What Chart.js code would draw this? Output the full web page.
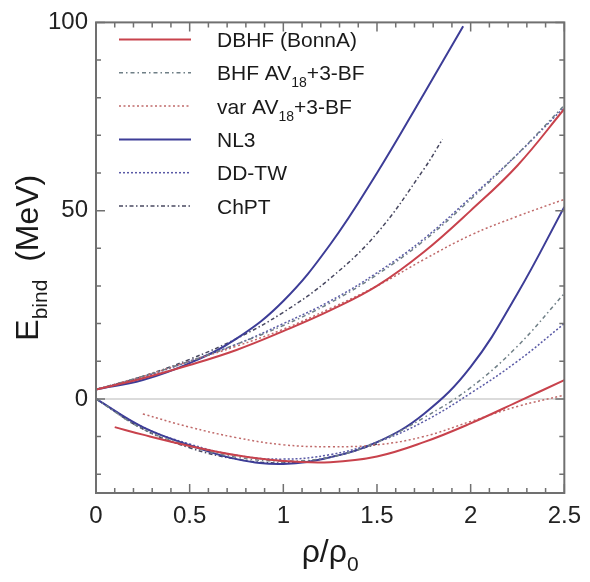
<!DOCTYPE html>
<html>
<head>
<meta charset="utf-8">
<script src="https://cdn.jsdelivr.net/npm/chart.js@4.4.1/dist/chart.umd.min.js"></script>
<style>
  html, body { margin: 0; padding: 0; background: #fff; }
  #wrap { width: 590px; height: 582px; position: relative; }
</style>
</head>
<body>
<div id="wrap"><canvas id="eos"></canvas></div>
<script>
// axis ticks
const xTicks = [0, 0.5, 1, 1.5, 2, 2.5];
const yTicks = [0, 50, 100];

// density grid (rho/rho0)
const rhoFull = [0, 0.25, 0.5, 0.75, 1, 1.25, 1.5, 1.75, 2, 2.25, 2.5];

// DBHF (BonnA)
const dbhfNeutX = rhoFull;
const dbhfNeutY = [2.5, 5.5, 9, 13, 18, 23.5, 30, 39, 50, 62, 77];
const dbhfSymX = [0.1, 0.25, 0.5, 0.75, 1, 1.25, 1.5, 1.75, 2, 2.25, 2.5];
const dbhfSymY = [-7.5, -9.5, -12.5, -15, -16.5, -16.8, -15.3, -11.5, -6.5, -0.8, 5];

// BHF AV18+3-BF
const bhfNeutX = rhoFull;
const bhfNeutY = [2.5, 6, 10, 14.5, 19.5, 25.5, 33, 42, 53, 65, 78];
const bhfSymX = rhoFull;
const bhfSymY = [0, -8, -12.5, -15.5, -16.5, -15.5, -11.5, -5, 3, 14, 28];

// var AV18+3-BF
const varNeutX = rhoFull;
const varNeutY = [2.5, 6, 10, 14, 18.5, 24, 30, 37, 43.5, 48.5, 53];
const varSymX = [0.25, 0.5, 0.75, 1, 1.25, 1.5, 1.75, 2, 2.25, 2.5];
const varSymY = [-4, -7.5, -10.3, -12.2, -12.7, -12.2, -10, -6, -2, 1];

// NL3
const nl3NeutX = [0, 0.25, 0.5, 0.75, 1, 1.25, 1.5, 1.75, 1.96];
const nl3NeutY = [2.5, 5, 9.5, 16, 26, 41, 60, 81, 99];
const nl3SymX = rhoFull;
const nl3SymY = [0, -7.5, -12.3, -16, -17.3, -15.5, -11.5, -4, 8.5, 28, 51];

// DD-TW
const ddtwNeutX = rhoFull;
const ddtwNeutY = [2.5, 5.8, 10, 14.5, 20, 26, 33.5, 42.5, 53.5, 65, 77.5];
const ddtwSymX = rhoFull;
const ddtwSymY = [0, -7.5, -12, -15, -16, -14.8, -11.5, -6, 1.5, 10, 20];

// ChPT
const chptNeutX = [0, 0.25, 0.5, 0.75, 1, 1.25, 1.5, 1.75, 1.85];
const chptNeutY = [2.5, 6, 10.5, 16, 23, 32, 44, 61, 69];
const chptSymX = [0, 0.25, 0.5, 0.75, 1, 1.25, 1.5];
const chptSymY = [0, -8, -13, -16, -17, -15.5, -12];

const styles = [
  { name: "DBHF (BonnA)", color: "#c8424c", dash: [], width: 2 },
  { name: ["BHF AV", "18", "+3-BF"], color: "#6f7f86", dash: [4, 3, 1.5, 3], width: 1.5 },
  { name: ["var AV", "18", "+3-BF"], color: "#c06a6a", dash: [2, 2.5], width: 1.5 },
  { name: "NL3", color: "#3d3d97", dash: [], width: 2 },
  { name: "DD-TW", color: "#5a5aa6", dash: [2, 2], width: 1.5 },
  { name: "ChPT", color: "#484860", dash: [4, 2.5, 1.5, 2.5], width: 1.5 },
];

function toPoints(xs, ys) {
  return xs.map((x, i) => ({ x: x, y: ys[i] }));
}

const curves = [
  [0, dbhfNeutX, dbhfNeutY], [0, dbhfSymX, dbhfSymY],
  [1, bhfNeutX, bhfNeutY], [1, bhfSymX, bhfSymY],
  [2, varNeutX, varNeutY], [2, varSymX, varSymY],
  [3, nl3NeutX, nl3NeutY], [3, nl3SymX, nl3SymY],
  [4, ddtwNeutX, ddtwNeutY], [4, ddtwSymX, ddtwSymY],
  [5, chptNeutX, chptNeutY], [5, chptSymX, chptSymY],
];

const datasets = curves.map(([s, xs, ys]) => ({
  data: toPoints(xs, ys),
  borderColor: styles[s].color,
  borderDash: styles[s].dash,
  borderWidth: styles[s].width,
  pointRadius: 0,
  fill: false,
  tension: 0.4,
}));

const FONT = "'Liberation Sans', Arial, sans-serif";

// text with a subscript part: parts = [main, sub, rest]
function drawSubText(ctx, parts, x, y, size, subSize, subDrop) {
  if (typeof parts === "string") parts = [parts];
  ctx.font = size + "px " + FONT;
  ctx.fillText(parts[0], x, y);
  x += ctx.measureText(parts[0]).width;
  if (parts.length > 1) {
    ctx.font = subSize + "px " + FONT;
    ctx.fillText(parts[1], x, y + subDrop);
    x += ctx.measureText(parts[1]).width;
    ctx.font = size + "px " + FONT;
    if (parts[2]) ctx.fillText(parts[2], x, y);
  }
}

function subTextWidth(ctx, parts, size, subSize) {
  ctx.font = size + "px " + FONT;
  let w = ctx.measureText(parts[0]).width;
  ctx.font = subSize + "px " + FONT;
  w += ctx.measureText(parts[1]).width;
  ctx.font = size + "px " + FONT;
  if (parts[2]) w += ctx.measureText(parts[2]).width;
  return w;
}

const decor = {
  id: "decor",
  beforeDatasetsDraw(chart) {
    const { ctx, chartArea, scales } = chart;
    const y0 = scales.y.getPixelForValue(0);
    ctx.save();
    ctx.strokeStyle = "#cfcfcf";
    ctx.lineWidth = 1.5;
    ctx.beginPath();
    ctx.moveTo(chartArea.left, y0);
    ctx.lineTo(chartArea.right, y0);
    ctx.stroke();
    ctx.restore();
  },
  afterDraw(chart) {
    const { ctx, chartArea: a, scales } = chart;
    ctx.save();
    // frame
    ctx.strokeStyle = "#707070";
    ctx.lineWidth = 2;
    ctx.strokeRect(a.left, a.top, a.right - a.left, a.bottom - a.top);
    // inward ticks
    ctx.lineWidth = 1.5;
    ctx.beginPath();
    for (let i = 0; i <= 25; i++) {
      const px = scales.x.getPixelForValue(i / 10);
      const len = i % 5 === 0 ? 9 : 5;
      ctx.moveTo(px, a.bottom); ctx.lineTo(px, a.bottom - len);
      ctx.moveTo(px, a.top); ctx.lineTo(px, a.top + len);
    }
    for (let v = -20; v <= 100; v += 10) {
      const py = scales.y.getPixelForValue(v);
      const len = v % 50 === 0 ? 9 : 5;
      ctx.moveTo(a.left, py); ctx.lineTo(a.left + len, py);
      ctx.moveTo(a.right, py); ctx.lineTo(a.right - len, py);
    }
    ctx.stroke();

    // legend
    ctx.textBaseline = "alphabetic";
    ctx.textAlign = "left";
    styles.forEach((s, i) => {
      const ly = 39.5 + i * 33.3;
      ctx.strokeStyle = s.color;
      ctx.lineWidth = s.width;
      ctx.setLineDash(s.dash);
      ctx.beginPath();
      ctx.moveTo(119, ly);
      ctx.lineTo(191, ly);
      ctx.stroke();
      ctx.setLineDash([]);
      ctx.fillStyle = "#1a1a1a";
      drawSubText(ctx, s.name, 217, ly + 7.5, 21, 14, 7);
    });

    // x title
    ctx.fillStyle = "#1a1a1a";
    const xt = ["\u03c1/\u03c1", "0", ""];
    const xw = subTextWidth(ctx, xt, 32, 21);
    drawSubText(ctx, xt, (a.left + a.right) / 2 - xw / 2, 562, 32, 21, 9);

    // y title
    const yt = ["E", "bind", "  (MeV)"];
    const yw = subTextWidth(ctx, yt, 32, 21);
    ctx.translate(38, (a.top + a.bottom) / 2);
    ctx.rotate(-Math.PI / 2);
    drawSubText(ctx, yt, -yw / 2, 0, 32, 21, 9);
    ctx.restore();
  },
};

new Chart(document.getElementById("eos"), {
  type: "line",
  data: { datasets: datasets },
  options: {
    responsive: true,
    maintainAspectRatio: false,
    animation: false,
    events: [],
    layout: { padding: { left: 0, right: 19, top: 15, bottom: 0 } },
    plugins: { legend: { display: false }, tooltip: { enabled: false } },
    scales: {
      x: {
        type: "linear",
        min: 0,
        max: 2.5,
        grid: { display: false, drawTicks: false },
        border: { display: false },
        afterBuildTicks: (scale) => { scale.ticks = xTicks.map((v) => ({ value: v })); },
        afterFit: (scale) => { scale.height = 89; },
        ticks: {
          maxRotation: 0,
          autoSkip: false,
          padding: 9,
          color: "#222",
          font: { size: 24, family: FONT },
          callback: (v) => String(v),
        },
      },
      y: {
        type: "linear",
        min: -25,
        max: 100,
        grid: { display: false, drawTicks: false },
        border: { display: false },
        afterBuildTicks: (scale) => { scale.ticks = yTicks.map((v) => ({ value: v })); },
        afterFit: (scale) => { scale.width = 96; },
        ticks: {
          padding: 8,
          color: "#222",
          font: { size: 24, family: FONT },
        },
      },
    },
  },
  plugins: [decor],
});
</script>
</body>
</html>
